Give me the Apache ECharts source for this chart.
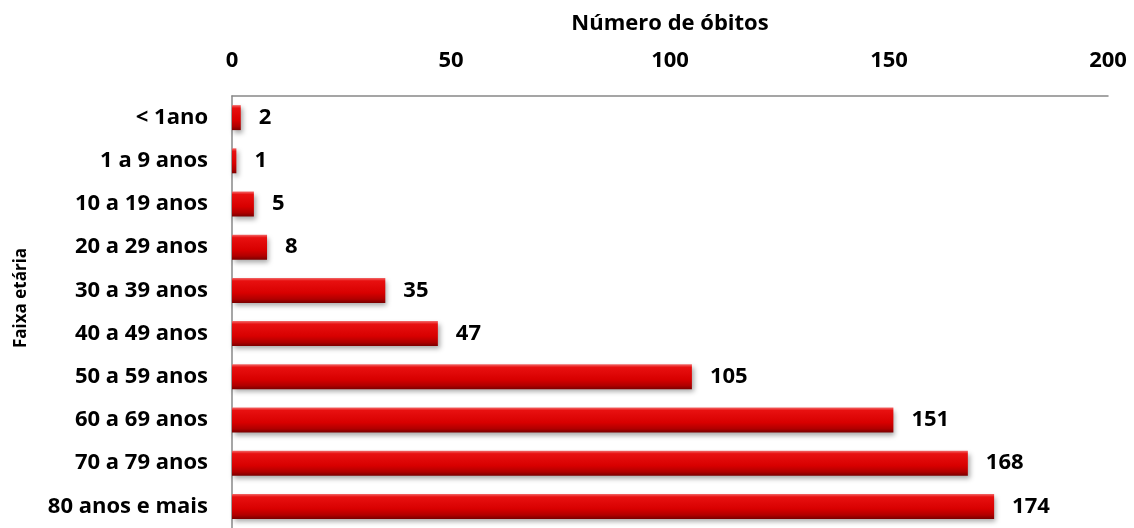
<!DOCTYPE html>
<html><head><meta charset="utf-8">
<script src="https://cdn.jsdelivr.net/npm/echarts@6/dist/echarts.min.js"></script>
<style>html,body{margin:0;padding:0;background:#fff}#c{width:1134px;height:528px}</style>
</head><body><div id="c"></div>
<script>
const categories = ['< 1ano','1 a 9 anos','10 a 19 anos','20 a 29 anos','30 a 39 anos','40 a 49 anos','50 a 59 anos','60 a 69 anos','70 a 79 anos','80 anos e mais'];
const obitos = [2,1,5,8,35,47,105,151,168,174];
const xTicks = [0,50,100,150,200];

const FONT = 'Open Sans';
const chart = echarts.init(document.getElementById('c'));
chart.setOption({
  animation:false,
  grid:{left:232, right:26, top:96, height:436},
  xAxis:{
    type:'value', position:'top', min:xTicks[0], max:xTicks[xTicks.length-1], interval:50,
    name:'Número de óbitos', nameLocation:'middle', nameGap:61,
    nameTextStyle:{fontFamily:FONT,fontWeight:'bold',fontSize:22,color:'#000'},
    axisLine:{show:true,lineStyle:{color:'#888',width:1.5}},
    axisTick:{show:false}, splitLine:{show:false},
    axisLabel:{fontFamily:FONT,fontWeight:'bold',fontSize:22,color:'#000',margin:24}
  },
  yAxis:{
    type:'category', data:categories, inverse:true,
    name:'Faixa etária', nameLocation:'middle', nameGap:202, nameRotate:90,
    nameTextStyle:{fontFamily:FONT,fontWeight:'bold',fontSize:17,color:'#000',padding:[0,0,0,28]},
    axisLine:{show:true,lineStyle:{color:'#888',width:1.5}},
    axisTick:{show:false},
    axisLabel:{fontFamily:FONT,fontWeight:'bold',fontSize:22,color:'#000',margin:24}
  },
  series:[{
    type:'bar', data:obitos, barWidth:25,
    itemStyle:{
      color:new echarts.graphic.LinearGradient(0,0,0,1,[
        {offset:0,color:'#f26a6a'},
        {offset:0.12,color:'#e81010'},
        {offset:0.6,color:'#d80000'},
        {offset:0.85,color:'#b00000'},
        {offset:1,color:'#7a0000'}
      ]),
      shadowColor:'rgba(0,0,0,0.35)', shadowBlur:5, shadowOffsetX:2, shadowOffsetY:3
    },
    label:{show:true, position:'right', distance:18, fontFamily:FONT, fontWeight:'bold', fontSize:22, color:'#000'}
  }]
});
</script></body></html>
